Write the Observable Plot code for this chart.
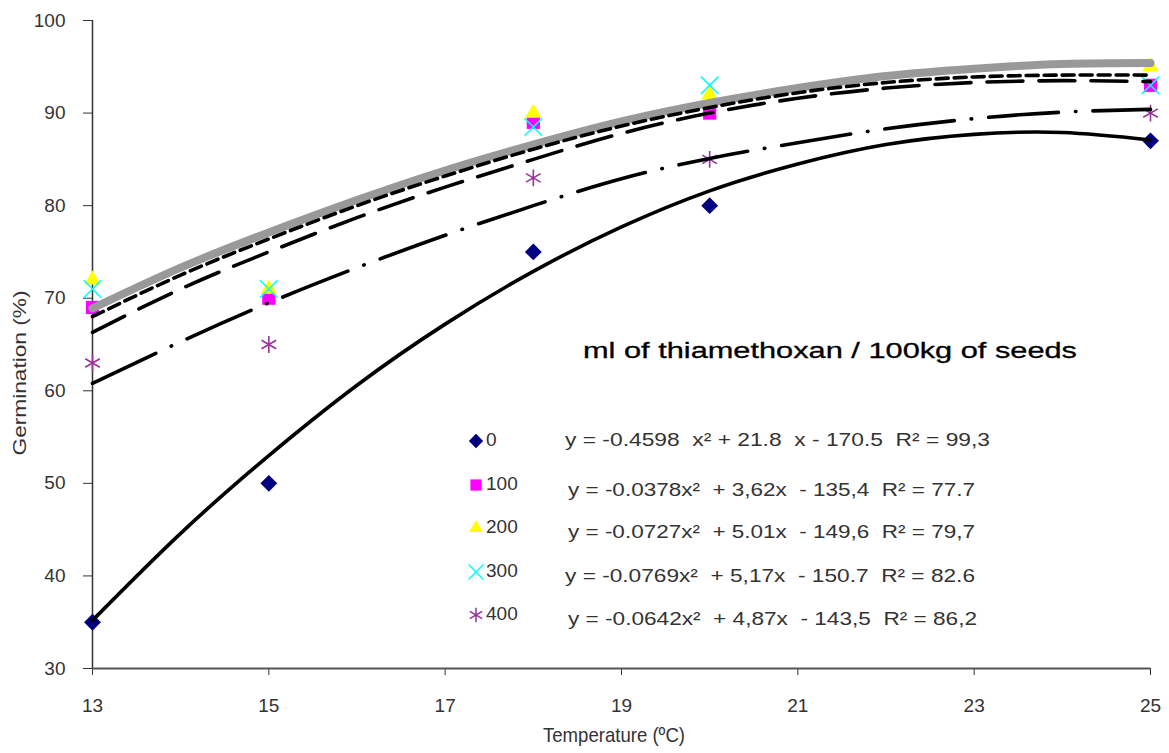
<!DOCTYPE html>
<html>
<head>
<meta charset="utf-8">
<script src="https://cdn.jsdelivr.net/npm/d3@7"></script>
<script src="https://cdn.jsdelivr.net/npm/@observablehq/plot@0.6"></script>
<style>
  html, body { margin: 0; padding: 0; background: #fff; }
  #chart { width: 1169px; height: 753px; }
</style>
</head>
<body>
<div id="chart"></div>
<script>
// ---- Data ----
const tempObs = [13, 15, 18, 20, 25];
const obs0   = [35, 50, 75, 80, 87];
const obs100 = [69, 70, 89, 90, 93];
const obs200 = [72, 71, 90, 92, 95];
const obs300 = [71, 71, 88.5, 93, 93];
const obs400 = [63, 65, 83, 85, 90];

// fitted trend curves, read at each degree
const tempFit = [13, 14, 15, 16, 17, 18, 19, 20, 21, 22, 23, 24, 25];
const fit0   = [35.2, 44.6, 53.0, 60.6, 67.2, 72.9, 77.7, 81.6, 84.5, 86.6, 87.7, 87.9, 87.1];
const fit100 = [66.3, 71.0, 75.0, 78.7, 82.0, 85.0, 87.8, 90.0, 91.6, 92.7, 93.3, 93.5, 93.4];
const fit200 = [68.9, 73.3, 77.1, 80.6, 83.8, 86.6, 89.1, 91.1, 92.7, 94.0, 94.8, 95.3, 95.4];
const fit300 = [68.0, 72.5, 76.4, 80.0, 83.2, 86.1, 88.6, 90.6, 92.2, 93.3, 93.9, 94.1, 94.1];
const fit400 = [60.8, 65.3, 69.5, 73.3, 76.8, 80.0, 82.9, 85.1, 86.8, 88.3, 89.4, 90.1, 90.4];

const doses = ["0", "100", "200", "300", "400"];
const colors = ["#000080", "#ff00ff", "#ffff00", "#00ffff", "#993399"];
const symbols = ["diamond2", "square2", "triangle2", "times", "asterisk"];
const equations = [
  "y = -0.4598  x² + 21.8  x - 170.5  R² = 99,3",
  "y = -0.0378x²  + 3,62x  - 135,4  R² = 77.7",
  "y = -0.0727x²  + 5.01x  - 149,6  R² = 79,7",
  "y = -0.0769x²  + 5,17x  - 150.7  R² = 82.6",
  "y = -0.0642x²  + 4,87x  - 143,5  R² = 86,2"
];
const legendTitle = "ml of thiamethoxan / 100kg of seeds";
const xTicks = [13, 15, 17, 19, 21, 23, 25];
const yTicks = [30, 40, 50, 60, 70, 80, 90, 100];
const xLabel = "Temperature (ºC)";
const yLabel = "Germination (%)";

// ---- Build tables ----
const obsSeries = [obs0, obs100, obs200, obs300, obs400];
const points = obsSeries.map((vals, s) => tempObs.map((t, i) => ({t, v: vals[i], dose: doses[s]})));
const fitRows = vals => tempFit.map((t, i) => ({t, v: vals[i]}));

const FONT = "'Liberation Sans', Arial, sans-serif";
const sym = {diamond2: {r: 7.6, fill: true}, square2: {r: 8.4, fill: true}, triangle2: {r: 7.8, fill: true},
             times: {r: 8, fill: false}, asterisk: {r: 8, fill: false}};

const dotMarks = points.map((rows, s) => {
  const k = symbols[s];
  return Plot.dot(rows, {
    x: "t", y: "v", symbol: k, r: sym[k].r,
    fill: sym[k].fill ? colors[s] : "none",
    stroke: sym[k].fill ? "none" : colors[s],
    strokeWidth: 1.6
  });
});

const plot = Plot.plot({
  width: 1169,
  height: 753,
  marginLeft: 92,
  marginRight: 19,
  marginTop: 20,
  marginBottom: 85,
  style: {fontFamily: FONT, fontSize: "18px", color: "#333", background: "#fff"},
  x: {domain: [13, 25]},
  y: {domain: [30, 100]},
  marks: [
    Plot.axisY({ticks: yTicks, tickSize: 9, tickPadding: 18, label: null, fontSize: 19}),
    Plot.axisX({ticks: xTicks, tickSize: 7, tickPadding: 23, label: null, fontSize: 19}),
    Plot.ruleX([13], {stroke: "#333", strokeWidth: 1.5}),
    Plot.ruleY([30], {stroke: "#555", strokeWidth: 2}),
    ...dotMarks,
    Plot.line(fitRows(fit200), {x: "t", y: "v", curve: "natural", stroke: "url(#checker)", strokeWidth: 8}),
    Plot.line(fitRows(fit300), {x: "t", y: "v", curve: "natural", stroke: "#000", strokeWidth: 3.6, strokeDasharray: "12,6"}),
    Plot.line(fitRows(fit100), {x: "t", y: "v", curve: "natural", stroke: "#000", strokeWidth: 3.6, strokeDasharray: "36,16"}),
    Plot.line(fitRows(fit400), {x: "t", y: "v", curve: "natural", stroke: "#000", strokeWidth: 3.6, strokeLinecap: "round", strokeDasharray: "70,17,0.5,17"}),
    Plot.line(fitRows(fit0), {x: "t", y: "v", curve: "natural", stroke: "#000", strokeWidth: 3.6})
  ]
});

const svg = d3.select(plot);
// checker pattern for the grey band
const defs = svg.insert("defs", ":first-child");
const pat = defs.append("pattern").attr("id", "checker").attr("patternUnits", "userSpaceOnUse")
  .attr("width", 2).attr("height", 2);
pat.append("rect").attr("width", 2).attr("height", 2).attr("fill", "#fff");
pat.append("rect").attr("width", 1).attr("height", 1).attr("fill", "#333");
pat.append("rect").attr("x", 1).attr("y", 1).attr("width", 1).attr("height", 1).attr("fill", "#333");

// axis titles
svg.append("text").attr("transform", "translate(21,373) rotate(-90)")
  .attr("text-anchor", "middle").attr("dominant-baseline", "middle")
  .attr("font-size", 18).attr("fill", "#333").attr("textLength", 165).attr("lengthAdjust", "spacingAndGlyphs")
  .text(yLabel);
svg.append("text").attr("x", 614).attr("y", 736)
  .attr("text-anchor", "middle").attr("dominant-baseline", "middle")
  .attr("font-size", 21).attr("fill", "#333").attr("textLength", 142).attr("lengthAdjust", "spacingAndGlyphs")
  .text(xLabel);

// legend block inside the plot area
const lg = svg.append("g").attr("font-family", FONT).attr("text-anchor", "start");
lg.append("text").attr("x", 583).attr("y", 352).attr("dominant-baseline", "middle")
  .attr("font-size", 22).attr("fill", "#000").attr("stroke", "#000").attr("stroke-width", 0.3)
  .attr("textLength", 494).attr("lengthAdjust", "spacingAndGlyphs").text(legendTitle);

const rowY = [441, 485, 528, 572, 615];
const eqY = [441, 491, 533, 577, 620];
const eqX = [565, 568, 568, 565, 568];
const eqW = [425, 407, 407, 410, 409];
const symMap = {diamond2: d3.symbolDiamond2, square2: d3.symbolSquare2, triangle2: d3.symbolTriangle2,
                times: d3.symbolTimes, asterisk: d3.symbolAsterisk};
doses.forEach((d, i) => {
  const k = symbols[i];
  const r = sym[k].r * 0.85;
  lg.append("path").attr("transform", `translate(476,${rowY[i]})`)
    .attr("d", d3.symbol(symMap[k], Math.PI * r * r)())
    .attr("fill", sym[k].fill ? colors[i] : "none")
    .attr("stroke", sym[k].fill ? "none" : colors[i]).attr("stroke-width", 1.5);
  lg.append("text").attr("x", 486).attr("y", rowY[i]).attr("dominant-baseline", "middle")
    .attr("font-size", 19).attr("fill", "#333").text(d);
  lg.append("text").attr("x", eqX[i]).attr("y", eqY[i]).attr("dominant-baseline", "middle")
    .attr("font-size", 19).attr("fill", "#333").attr("xml:space", "preserve").style("white-space", "pre")
    .attr("textLength", eqW[i]).attr("lengthAdjust", "spacingAndGlyphs").text(equations[i]);
});

document.getElementById("chart").appendChild(plot);
</script>
</body>
</html>
